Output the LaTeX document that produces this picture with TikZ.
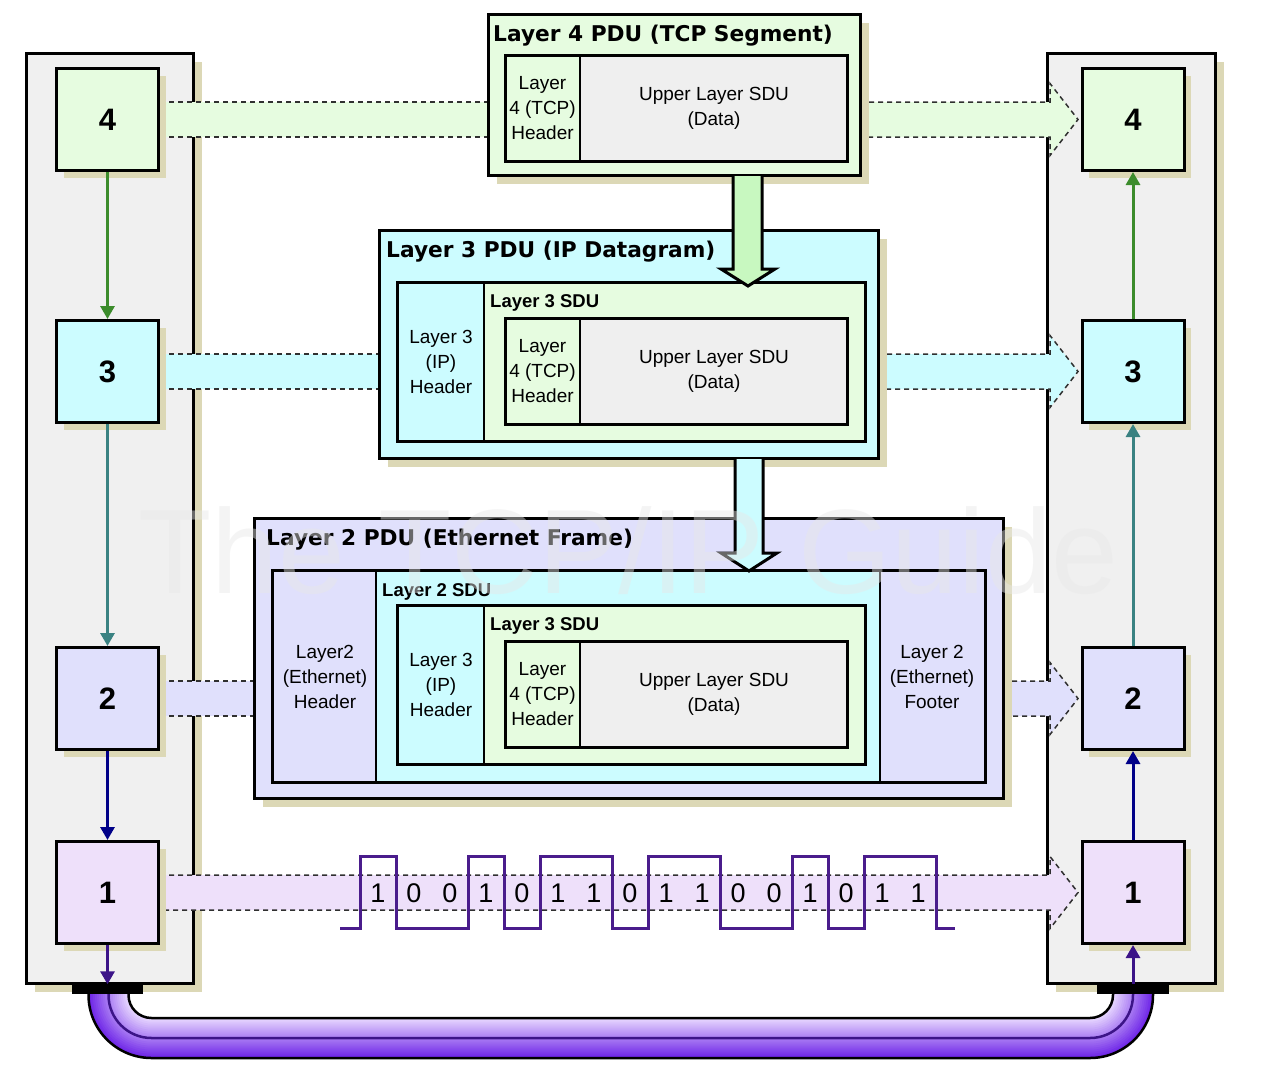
\documentclass[tikz,border=0pt]{standalone}
\usepackage{fontspec}
\setmainfont{Liberation Sans}
\newfontfamily\dvs{DejaVu Sans}
\usetikzlibrary{shadows,arrows.meta}
\definecolor{stackfill}{HTML}{F0F0F0}
\definecolor{shadowc}{HTML}{DCD8B6}
\definecolor{cfour}{HTML}{E6FCE0}
\definecolor{cthree}{HTML}{CCFCFF}
\definecolor{ctwo}{HTML}{E0E0FC}
\definecolor{cone}{HTML}{EEE0FA}
\definecolor{datafill}{HTML}{EFEFEF}
\definecolor{arrowgreen}{HTML}{C8F8C0}
\definecolor{lgreen}{HTML}{3C8C2C}
\definecolor{lteal}{HTML}{3A8282}
\definecolor{lnavy}{HTML}{000088}
\definecolor{lpurple}{HTML}{3C1488}
\definecolor{wave}{HTML}{4A1C8C}
\definecolor{cablelight}{HTML}{E8D8FF}
\definecolor{cabledark}{HTML}{7028E8}
\definecolor{dashc}{HTML}{303030}
\definecolor{wmc}{HTML}{E8E8E8}

\newcommand{\tcpseg}[2]{%
  \fill[cfour] (505,#1) rectangle (580,#1+106);
  \fill[datafill] (580,#1) rectangle (847,#1+106);
  \draw[divline] (580,#1) -- (580,#1+106);
  \draw[inbox] (505,#1) rectangle (847,#1+106);
  \node[txt] (#2h) at (542.5,#1+53) {Layer\\4 (TCP)\\Header};
  \node[txt] (#2d) at (714,#1+53) {Upper Layer SDU\\(Data)};
}
\newcommand{\ipblock}[2]{%
  \fill[cthree] (397,#1) rectangle (484,#1+159);
  \fill[cfour] (484,#1) rectangle (865,#1+159);
  \draw[divline] (484,#1) -- (484,#1+159);
  \draw[inbox] (397,#1) rectangle (865,#1+159);
  \node[sdutitle] (#2s) at (490,#1+25) {Layer 3 SDU};
  \node[txt] (#2i) at (441,#1+80) {Layer 3\\(IP)\\Header};
  \tcpseg{#1+36}{#2t}
}

\begin{document}
\begin{tikzpicture}[x=1pt,y=-1pt,
  stack/.style={draw=black,line width=3pt,fill=stackfill,inner sep=0pt,
    drop shadow={shadow xshift=8pt,shadow yshift=-8pt,fill=shadowc,opacity=1}},
  layerbox/.style={draw=black,line width=3pt,inner sep=0pt,minimum width=102pt,minimum height=102pt,
    font=\bfseries\fontsize{31}{32}\selectfont,
    drop shadow={shadow xshift=7pt,shadow yshift=-7pt,fill=shadowc,opacity=1}},
  pdu/.style={draw=black,line width=3pt,inner sep=0pt,anchor=north west,
    drop shadow={shadow xshift=8pt,shadow yshift=-8pt,fill=shadowc,opacity=1}},
  inbox/.style={draw=black,line width=3pt},
  divline/.style={draw=black,line width=1.5pt},
  pdutitle/.style={font=\dvs\bfseries\fontsize{21.7}{24}\selectfont,anchor=base west,inner sep=0pt},
  sdutitle/.style={font=\bfseries\fontsize{18.5}{20}\selectfont,anchor=base west,inner sep=0pt},
  txt/.style={font=\fontsize{19}{25}\selectfont,align=center,inner sep=0pt},
  bandline/.style={draw=dashc,line width=1.5pt,dash pattern=on 5pt off 4pt},
  fatarrow/.style={draw=black,line width=3pt,line join=miter},
  conn/.style={line width=3pt,-{Triangle[length=13pt,width=14pt]}},
  bitlbl/.style={font=\fontsize{27}{28}\selectfont,inner sep=0pt}
]
\useasboundingbox[fill=white] (0,0) rectangle (1266,1092);

% ---------- stacks ----------
\node[stack,minimum width=167pt,minimum height=930pt] (lstack) at (110,518.5) {};
\node[stack,minimum width=168pt,minimum height=930pt] (rstack) at (1131.5,518.5) {};

% ---------- dashed bands ----------
% layer 4
\fill[cfour] (160,102) rectangle (490,137);
\draw[bandline] (160,102) -- (490,102) (160,137) -- (490,137);
\fill[cfour] (860,102) -- (1050,102) -- (1050,83.5) -- (1078,119.5) -- (1050,155.5) -- (1050,137) -- (860,137) -- cycle;
\draw[bandline] (860,102) -- (1050,102) -- (1050,83.5) -- (1078,119.5) -- (1050,155.5) -- (1050,137) -- (860,137);
% layer 3
\fill[cthree] (160,354) rectangle (380,389);
\draw[bandline] (160,354) -- (380,354) (160,389) -- (380,389);
\fill[cthree] (878,354) -- (1050,354) -- (1050,335.5) -- (1078,371.5) -- (1050,407.5) -- (1050,389) -- (878,389) -- cycle;
\draw[bandline] (878,354) -- (1050,354) -- (1050,335.5) -- (1078,371.5) -- (1050,407.5) -- (1050,389) -- (878,389);
% layer 2
\fill[ctwo] (160,681) rectangle (255,716);
\draw[bandline] (160,681) -- (255,681) (160,716) -- (255,716);
\fill[ctwo] (1003,681) -- (1050,681) -- (1050,662.5) -- (1078,698.5) -- (1050,734.5) -- (1050,716) -- (1003,716) -- cycle;
\draw[bandline] (1003,681) -- (1050,681) -- (1050,662.5) -- (1078,698.5) -- (1050,734.5) -- (1050,716) -- (1003,716);
% layer 1
\fill[cone] (160,875) -- (1050,875) -- (1050,856.5) -- (1078,892.5) -- (1050,928.5) -- (1050,910) -- (160,910) -- cycle;
\draw[bandline] (160,875) -- (1050,875) -- (1050,856.5) -- (1078,892.5) -- (1050,928.5) -- (1050,910) -- (160,910);

% ---------- layer boxes ----------
\node[layerbox,fill=cfour]  (l4) at (107.5,119.5) {4};
\node[layerbox,fill=cthree] (l3) at (107.5,371.5) {3};
\node[layerbox,fill=ctwo]   (l2) at (107.5,698.5) {2};
\node[layerbox,fill=cone]   (l1) at (107.5,892.5) {1};
\node[layerbox,fill=cfour]  (r4) at (1133,119.5) {4};
\node[layerbox,fill=cthree] (r3) at (1133,371.5) {3};
\node[layerbox,fill=ctwo]   (r2) at (1133,698.5) {2};
\node[layerbox,fill=cone]   (r1) at (1133,892.5) {1};

% ---------- Layer 4 PDU ----------
\node[pdu,fill=cfour,minimum width=372pt,minimum height=161pt] (p4) at (487,13) {};
\node[pdutitle] (p4t) at (493,41) {Layer 4 PDU (TCP Segment)};
\tcpseg{55}{sa}

% ---------- Layer 3 PDU ----------
\node[pdu,fill=cthree,minimum width=499pt,minimum height=228pt] (p3) at (378,229) {};
\node[pdutitle] (p3t) at (386,257) {Layer 3 PDU (IP Datagram)};
\ipblock{282}{ia}

% ---------- Layer 2 PDU ----------
\node[pdu,fill=ctwo,minimum width=749pt,minimum height=280pt] (p2) at (253,517) {};
\node[pdutitle] (p2t) at (266,545) {Layer 2 PDU (Ethernet Frame)};
\fill[ctwo] (272,570) rectangle (376,782);
\fill[cthree] (376,570) rectangle (880,782);
\fill[ctwo] (880,570) rectangle (985,782);
\draw[divline] (376,570) -- (376,782) (880,570) -- (880,782);
\draw[inbox] (272,570) rectangle (985,782);
\node[sdutitle] (l2s) at (382,596) {Layer 2 SDU};
\node[txt] (l2h) at (325,677) {Layer2\\(Ethernet)\\Header};
\node[txt] (l2f) at (932,677) {Layer 2\\(Ethernet)\\Footer};
\ipblock{605}{ib}

% ---------- fat encapsulation arrows ----------
\filldraw[fatarrow,fill=arrowgreen] (733,176) -- (733,269) -- (721,269) -- (748,286) -- (775,269) -- (762,269) -- (762,176);
\filldraw[fatarrow,fill=cthree] (735,459) -- (735,553) -- (721,553) -- (749,571) -- (777,553) -- (763,553) -- (763,459);

% ---------- bits ----------
\draw[wave,line width=3pt,line join=miter]
  (340,928) -- (360,928) -- (360,856) -- (396,856) -- (396,928) -- (468,928) -- (468,856)
  -- (504,856) -- (504,928) -- (540,928) -- (540,856) -- (612,856) -- (612,928) -- (648,928)
  -- (648,856) -- (720,856) -- (720,928) -- (792,928) -- (792,856) -- (828,856) -- (828,928)
  -- (864,928) -- (864,856) -- (936,856) -- (936,928) -- (955,928);
\foreach \b [count=\i from 0] in {1,0,0,1,0,1,1,0,1,1,0,0,1,0,1,1}
  \node[bitlbl] (bit\i) at (378+36*\i,893) {\b};

% ---------- stack connectors ----------
\draw[conn,lgreen] (l4) -- (l3);
\draw[conn,lteal] (l3) -- (l2);
\draw[conn,lnavy] (l2) -- (l1);
\draw[conn,lgreen] (r3) -- (r4);
\draw[conn,lteal] (r2) -- (r3);
\draw[conn,lnavy] (r1) -- (r2);

% ---------- cable ----------
\foreach \r in {24,26,...,62} {
  \pgfmathsetmacro\pct{(\r-24)/38*100}
  \draw[line width=2.6pt,color=cabledark!\pct!cablelight]
    (151.5-\r,993) -- (151.5-\r,995) arc[start angle=180,end angle=90,radius=\r]
    -- (1090,995+\r) arc[start angle=90,end angle=0,radius=\r] -- (1090+\r,993);
}
\foreach \r/\c in {23/black,63/black,43/lpurple}
  \draw[line width=2.5pt,color=\c]
    (151.5-\r,993) -- (151.5-\r,995) arc[start angle=180,end angle=90,radius=\r]
    -- (1090,995+\r) arc[start angle=90,end angle=0,radius=\r] -- (1090+\r,993);
\node[fill=black,inner sep=0pt,minimum width=71pt,minimum height=9pt] (lbar) at (107.5,989) {};
\node[fill=black,inner sep=0pt,minimum width=72pt,minimum height=9pt] (rbar) at (1133,989) {};
\draw[conn,lpurple] (l1) -- (lbar);
\draw[conn,lpurple] (rbar) -- (r1);

% ---------- watermark ----------
\node[anchor=base west,inner sep=0pt,font=\fontsize{120}{120}\selectfont,text=wmc,text opacity=0.45] (wm) at (138,593) {The TCP/IP Guide};
\end{tikzpicture}
\end{document}
